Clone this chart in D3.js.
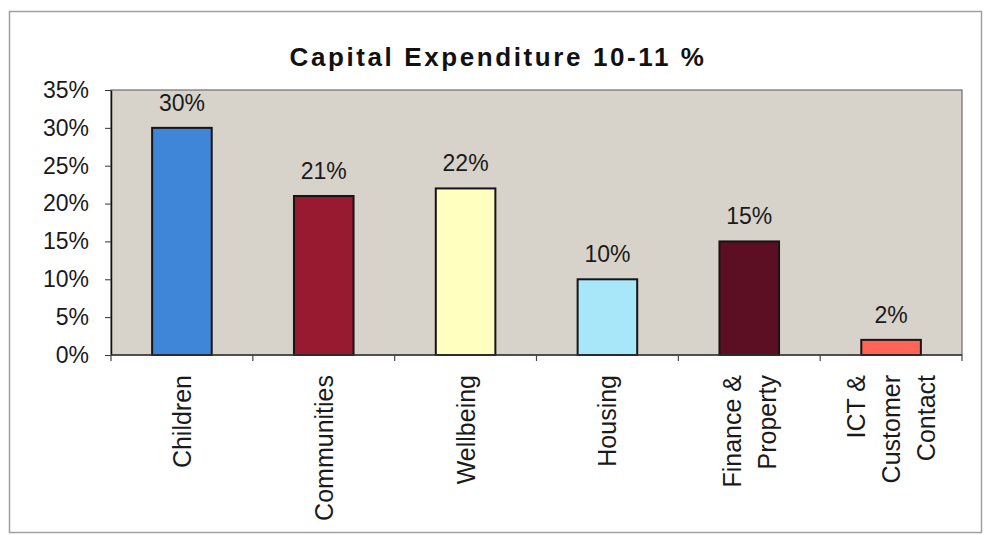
<!DOCTYPE html>
<html>
<head>
<meta charset="utf-8">
<script src="https://cdn.jsdelivr.net/npm/d3@7"></script>
<style>
  html, body { margin: 0; padding: 0; background: #fff; }
  svg { display: block; font-family: "Liberation Sans", Arial, sans-serif; }
</style>
</head>
<body>
<svg id="chart" width="987" height="535"></svg>
<script>
// Capital expenditure share by directorate, 2010-11
const categories = ["Children", "Communities", "Wellbeing", "Housing", "Finance & Property", "ICT & Customer Contact"];
const categoryLines = [["Children"], ["Communities"], ["Wellbeing"], ["Housing"], ["Finance &", "Property"], ["ICT &", "Customer", "Contact"]];
const values = [30, 21, 22, 10, 15, 2];
const barColors = ["#3f86d8", "#981a30", "#ffffc0", "#a8e6fa", "#5c0f22", "#ff6457"];
const yTicks = [0, 5, 10, 15, 20, 25, 30, 35];
const title = "Capital Expenditure 10-11 %";

const svg = d3.select("#chart");
const plot = { left: 111, right: 962, top: 90, bottom: 355 };

// outer chart frame
svg.append("rect")
  .attr("x", 9.5).attr("y", 11.5).attr("width", 972).attr("height", 521)
  .attr("fill", "#fff").attr("stroke", "#a0a0a0").attr("stroke-width", 1.5);

const x = d3.scaleBand().domain(categories).range([plot.left, plot.right]).paddingInner(0.58).paddingOuter(0.29);
const y = d3.scaleLinear().domain([0, 35]).range([plot.bottom, plot.top]);

// plot area background
svg.append("rect")
  .attr("x", plot.left).attr("y", plot.top)
  .attr("width", plot.right - plot.left).attr("height", plot.bottom - plot.top)
  .attr("fill", "#d8d3ca").attr("stroke", "#6e6e6e").attr("stroke-width", 1.2);

// title
svg.append("text")
  .attr("x", 498).attr("y", 66)
  .attr("text-anchor", "middle")
  .attr("font-size", 26).attr("font-weight", "bold")
  .attr("letter-spacing", 2.6)
  .attr("fill", "#111")
  .text(title);

// bars
svg.append("g").selectAll("rect")
  .data(values)
  .join("rect")
  .attr("x", (d, i) => x(categories[i]))
  .attr("y", d => y(d))
  .attr("width", x.bandwidth())
  .attr("height", d => y(0) - y(d))
  .attr("fill", (d, i) => barColors[i])
  .attr("stroke", "#151515").attr("stroke-width", 2);

// value labels
svg.append("g").selectAll("text")
  .data(values)
  .join("text")
  .attr("x", (d, i) => x(categories[i]) + x.bandwidth() / 2)
  .attr("y", d => y(d) - 17)
  .attr("text-anchor", "middle")
  .attr("font-size", 23)
  .attr("fill", "#1a1a1a")
  .text(d => d + "%");

// y axis
const yAxis = svg.append("g")
  .attr("transform", `translate(${plot.left},0)`)
  .call(d3.axisLeft(y).tickValues(yTicks).tickFormat(d => d + "%").tickSizeInner(6).tickSizeOuter(0).tickPadding(16));
yAxis.select(".domain").attr("stroke", "#111").attr("stroke-width", 1.5);
yAxis.selectAll(".tick line").attr("stroke", "#333");
yAxis.selectAll(".tick text")
  .attr("font-size", 23).attr("fill", "#1a1a1a")
  .attr("font-family", "Liberation Sans, Arial, sans-serif");

// x axis baseline with tick marks between categories
const step = x.step();
const boundaries = d3.range(categories.length + 1).map(i => plot.left + i * step);
svg.append("line")
  .attr("x1", plot.left).attr("x2", plot.right)
  .attr("y1", plot.bottom).attr("y2", plot.bottom)
  .attr("stroke", "#333").attr("stroke-width", 1.5);
svg.append("g").selectAll("line")
  .data(boundaries)
  .join("line")
  .attr("x1", d => d).attr("x2", d => d)
  .attr("y1", plot.bottom).attr("y2", plot.bottom + 6)
  .attr("stroke", "#444").attr("stroke-width", 1.2);

// rotated category labels, reading upward, top end just below the axis
const lineH = 35;
const catG = svg.append("g");
categoryLines.forEach((lines, i) => {
  const cx = x(categories[i]) + x.bandwidth() / 2;
  const n = lines.length;
  const t = catG.append("text")
    .attr("transform", `translate(${cx},375) rotate(-90)`)
    .attr("text-anchor", "end")
    .attr("font-size", 25)
    .attr("fill", "#1a1a1a");
  lines.forEach((ln, j) => {
    t.append("tspan")
      .attr("x", 0)
      .attr("y", (j - (n - 1) / 2) * lineH + 9)
      .text(ln);
  });
});
</script>
</body>
</html>
